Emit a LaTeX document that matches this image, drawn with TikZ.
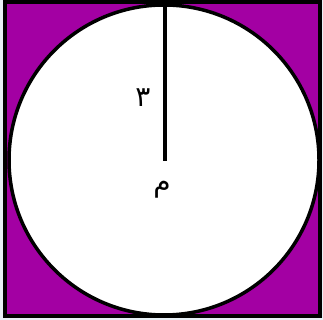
\documentclass[tikz,border=0pt]{standalone}
\usepackage{fontspec}
\newfontfamily\arabicfont[Script=Arabic]{DejaVu Sans}
\TeXXeTstate=1
\definecolor{bgpurple}{RGB}{163,0,163}
\definecolor{outside}{RGB}{232,240,246}
\tikzset{
  edge/.style={draw=black, line width=3.5pt},
  lbl/.style={font=\arabicfont\fontsize{28}{32}\selectfont, inner sep=0pt}
}
\begin{document}
\begin{tikzpicture}[x=1pt,y=1pt]
\useasboundingbox (0,0) rectangle (323,320);
\fill[outside] (0,0) rectangle (323,320);
\draw[edge, fill=bgpurple] (5,4) rectangle (320,318);
\draw[edge, fill=white] (164,160) circle (155);
\coordinate (c) at (165,159);
\coordinate (top) at (165,316);
\draw[black, line width=4pt] (c) -- (top);
\node[lbl] (three) at (143,222) {\beginR ٣\endR};
\node[lbl] (m) at (162,130) {\beginR م\endR};
\end{tikzpicture}
\end{document}
